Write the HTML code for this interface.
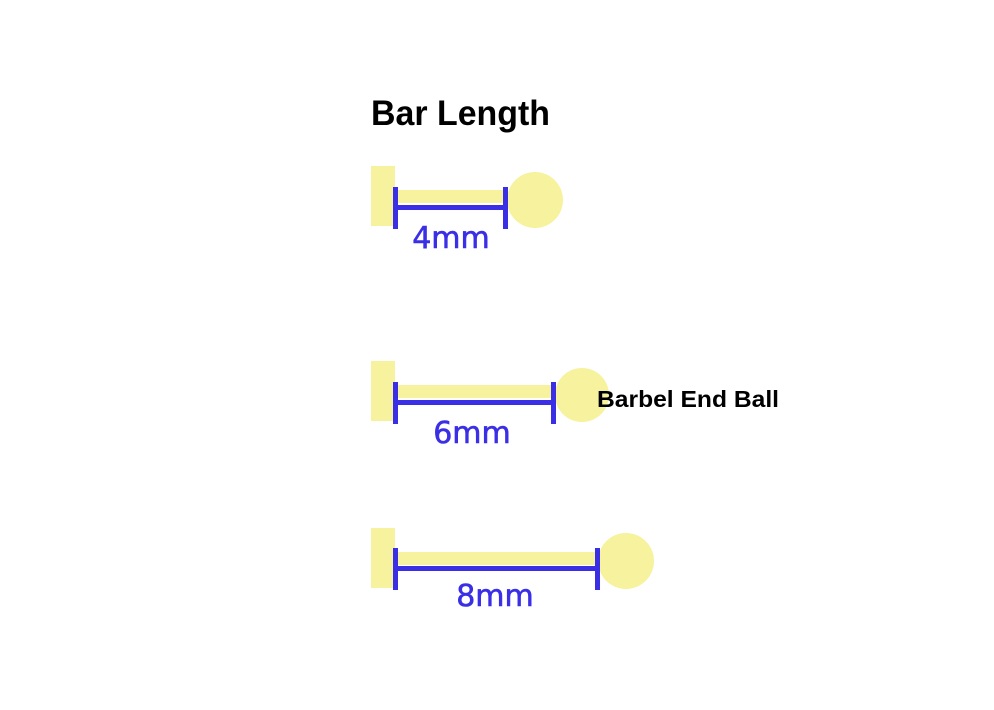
<!DOCTYPE html>
<html><head><style>body{margin:0;background:#fff}</style></head><body>
<svg width="994" height="705" viewBox="0 0 994 705" xmlns="http://www.w3.org/2000/svg">
<rect width="994" height="705" fill="#fff"/>
<text x="371" y="125" font-family="Liberation Sans, sans-serif" font-weight="bold" font-size="35" fill="#000" textLength="179" lengthAdjust="spacingAndGlyphs">Bar Length</text>
<g fill="#f6f29e">
<rect x="371" y="166" width="24" height="60"/><rect x="395" y="190" width="112" height="13"/><circle cx="535" cy="200" r="28"/>
<rect x="371" y="361" width="24" height="60"/><rect x="395" y="385" width="160" height="13"/><circle cx="582" cy="395" r="27"/>
<rect x="371" y="528" width="24" height="60"/><rect x="395" y="552" width="202" height="13"/><circle cx="626" cy="561" r="28"/>
</g>
<g fill="#3b2fe6">
<rect x="393" y="187" width="5" height="42"/><rect x="503" y="187" width="5" height="42"/><rect x="393" y="205" width="115" height="5"/>
<rect x="393" y="382" width="5" height="42"/><rect x="551" y="382" width="5" height="42"/><rect x="393" y="400" width="163" height="5"/>
<rect x="393" y="548" width="5" height="42"/><rect x="595" y="548" width="5" height="42"/><rect x="393" y="566" width="207" height="5"/>
</g>
<g font-family="DejaVu Sans, sans-serif" font-size="30" fill="#3b2fe6" stroke="#3b2fe6" stroke-width="0.6" text-anchor="middle">
<text x="451" y="248">4mm</text>
<text x="472" y="443">6mm</text>
<text x="495" y="606">8mm</text>
</g>
<text x="597" y="407" font-family="Liberation Sans, sans-serif" font-weight="bold" font-size="23" fill="#000" textLength="182" lengthAdjust="spacingAndGlyphs">Barbel End Ball</text>
</svg>
</body></html>
